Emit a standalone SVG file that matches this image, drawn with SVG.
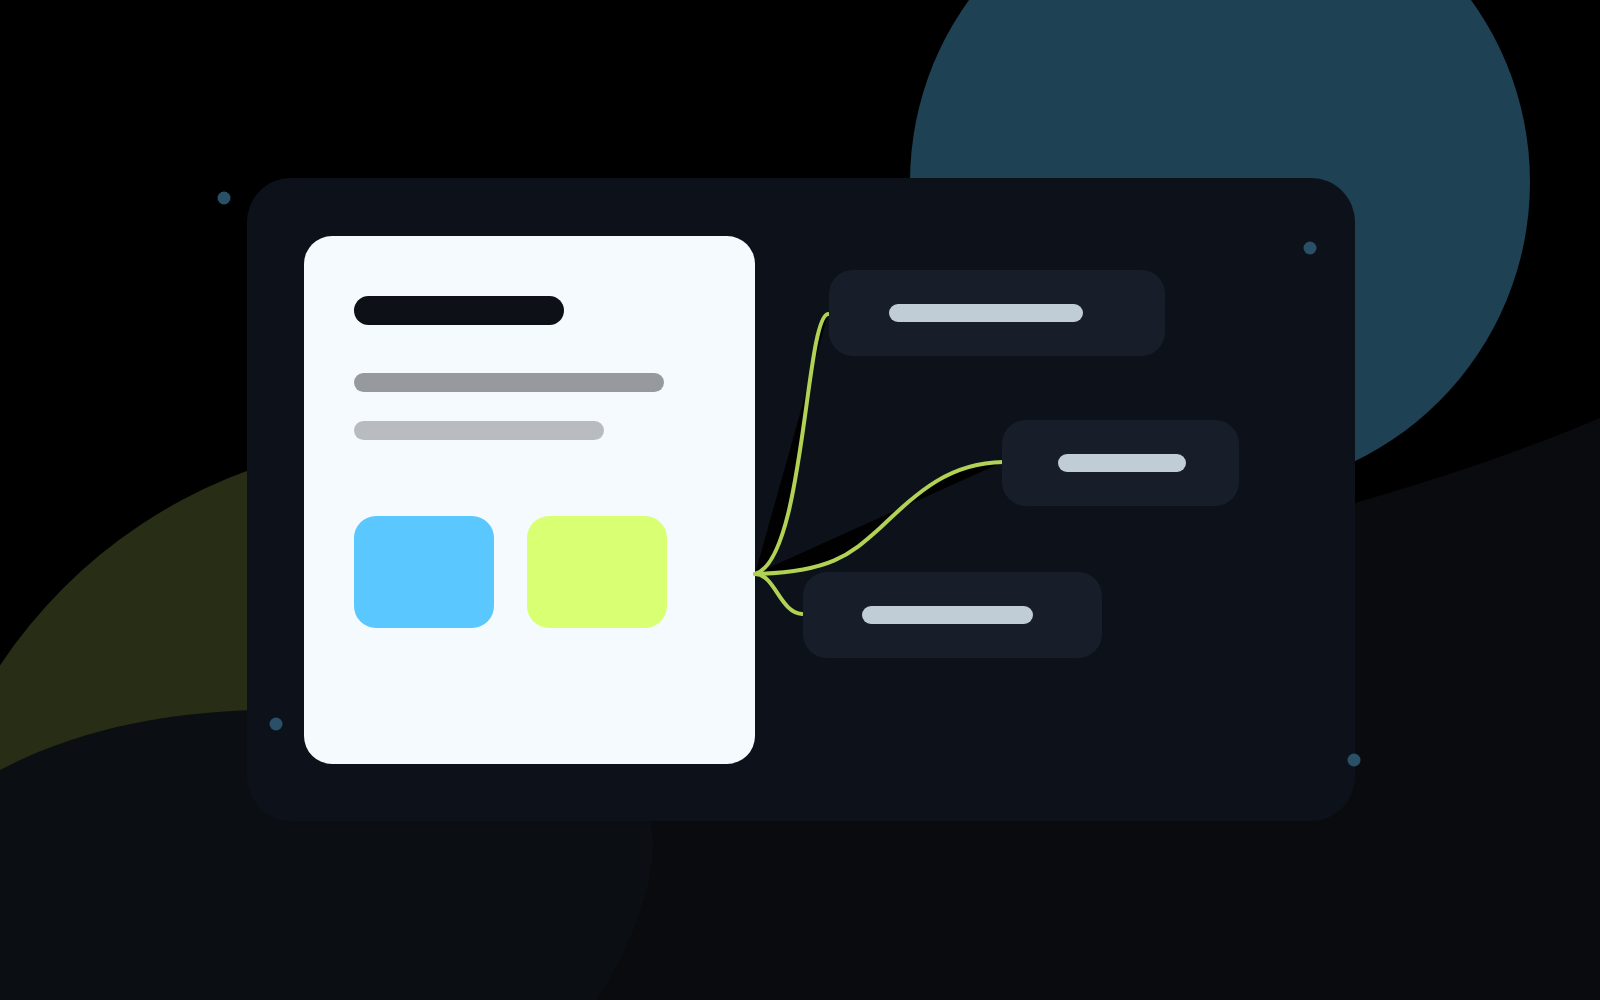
<svg xmlns="http://www.w3.org/2000/svg" width="1600" height="1000" viewBox="0 0 1600 1000">
  <style>
    .node { fill: #181e29; }
    .nbar { fill: #c1cdd6; }
    .dot { fill: #2a5068; }
    .wire { fill: none; stroke: #b2d255; stroke-width: 4; stroke-linecap: round; }
    .shadow { fill: #000; stroke: none; opacity: 0.9; }
  </style>
  <rect x="0" y="0" width="1600" height="1000" fill="#000"/>
  <g id="background">
    <circle cx="1220" cy="182" r="310" fill="#1e4153"/>
    <circle cx="421" cy="946" r="506" fill="#282e16"/>
    <path d="M1600,418 C1500,460 1420,484 1355,503 L400,700 L300,1000 L1600,1000 Z" fill="#0a0b0f"/>
    <path d="M0,770 C80,728 170,712 260,710 C450,708 640,740 652,830 C658,880 630,950 596,1000 L0,1000 Z" fill="#0b0f13"/>
  </g>
  <g id="card">
    <rect x="247" y="178" width="1108" height="643" rx="44" fill="#0d111a"/>
  </g>
  <g id="document">
    <rect x="304" y="236" width="451" height="528" rx="28" fill="#f5faff"/>
    <rect x="354" y="296" width="210" height="29" rx="14.5" fill="#0d1117"/>
    <rect x="354" y="373" width="310" height="19" rx="9.5" fill="#969a9f"/>
    <rect x="354" y="421" width="250" height="19" rx="9.5" fill="#b8bcc0"/>
    <rect x="354" y="516" width="140" height="112" rx="22" fill="#5ac8ff"/>
    <rect x="527" y="516" width="140" height="112" rx="22" fill="#d9ff73"/>
  </g>
  <g id="connectors">
    <path class="shadow" d="M755,574 C805,560 805,318 828,314 Z"/>
    <path class="shadow" d="M755,574 C830,572 850,555 880,528 C920,490 950,463 1003,462 Z"/>
    <path class="wire" d="M755,574 C805,560 805,318 828,314"/>
    <path class="wire" d="M755,574 C830,572 850,555 880,528 C920,490 950,463 1003,462"/>
    <path class="wire" d="M755,574 C775,574 780,613 802,614"/>
  </g>
  <g id="node-top">
    <rect class="node" x="829" y="270" width="336" height="86" rx="24"/>
    <rect class="nbar" x="889" y="304" width="194" height="18" rx="9"/>
  </g>
  <g id="node-middle">
    <rect class="node" x="1002" y="420" width="237" height="86" rx="24"/>
    <rect class="nbar" x="1058" y="454" width="128" height="18" rx="9"/>
  </g>
  <g id="node-bottom">
    <rect class="node" x="803" y="572" width="299" height="86" rx="24"/>
    <rect class="nbar" x="862" y="606" width="171" height="18" rx="9"/>
  </g>
  <g id="dots">
    <circle class="dot" cx="224" cy="198" r="6.5"/>
    <circle class="dot" cx="1310" cy="248" r="6.5"/>
    <circle class="dot" cx="276" cy="724" r="6.5"/>
    <circle class="dot" cx="1354" cy="760" r="6.5"/>
  </g>
</svg>
